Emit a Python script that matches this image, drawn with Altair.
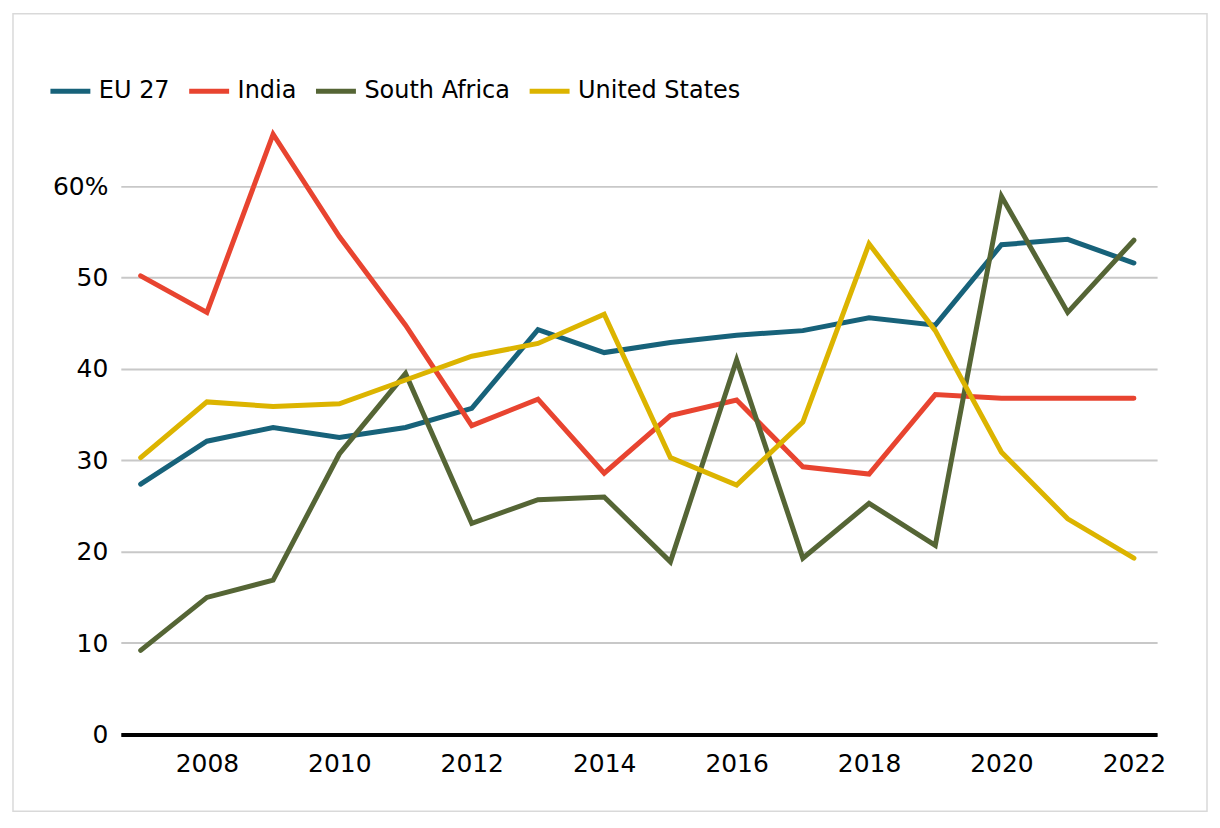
import altair as alt
import pandas as pd

years = list(range(2007, 2023))
series_names = ["EU 27", "India", "South Africa", "United States"]
eu27 = [27.4, 32.1, 33.6, 32.5, 33.6, 35.7, 44.3, 41.8, 42.9, 43.7, 44.2, 45.6, 44.8, 53.6, 54.2, 51.6]
india = [50.2, 46.2, 65.7, 54.5, 44.8, 33.8, 36.7, 28.6, 34.9, 36.6, 29.3, 28.5, 37.2, 36.8, 36.8, 36.8]
south_africa = [9.2, 15.0, 16.9, 30.7, 39.5, 23.1, 25.7, 26.0, 18.9, 41.0, 19.3, 25.3, 20.7, 58.9, 46.2, 54.1]
united_states = [30.3, 36.4, 35.9, 36.2, 38.8, 41.4, 42.8, 46.0, 30.3, 27.3, 34.2, 53.7, 44.2, 30.9, 23.6, 19.3]
colors = ["#17627a", "#e84430", "#556535", "#dcb400"]
y_ticks = [0, 10, 20, 30, 40, 50, 60]
x_ticks = [2008, 2010, 2012, 2014, 2016, 2018, 2020, 2022]

rows = []
for name, vals in zip(series_names, [eu27, india, south_africa, united_states]):
    for yr, v in zip(years, vals):
        rows.append({"year": yr, "value": v, "series": name})
df = pd.DataFrame(rows)

FONT = "DejaVu Sans"

lines = alt.Chart(df).mark_line(strokeWidth=5, strokeCap="round").encode(
    x=alt.X("year:Q",
            scale=alt.Scale(domain=[2006.7, 2022.35], nice=False, zero=False),
            axis=alt.Axis(values=x_ticks, format="d", title=None, grid=False,
                          ticks=False, domain=True, domainColor="#000000",
                          domainWidth=4, labelPadding=17, labelFont=FONT,
                          labelFontSize=25, labelColor="#000000")),
    y=alt.Y("value:Q",
            scale=alt.Scale(domain=[0, 66], nice=False),
            axis=alt.Axis(values=y_ticks, title=None, domain=False, ticks=False,
                          grid=True, gridColor="#c8c8c8", gridWidth=2,
                          labelPadding=13, labelFont=FONT, labelFontSize=25,
                          labelColor="#000000",
                          labelExpr="datum.value == 60 ? '60%' : datum.label")),
    color=alt.Color("series:N",
                    scale=alt.Scale(domain=series_names, range=colors),
                    legend=alt.Legend(title=None, orient="none", legendX=-73,
                                      legendY=-63, direction="horizontal",
                                      symbolType="stroke", symbolSize=1600,
                                      symbolStrokeWidth=5, labelFont=FONT,
                                      labelFontSize=24, labelColor="#000000",
                                      labelLimit=1000,
                                      labelOffset=6, columnPadding=9)),
)

border = alt.Chart(alt.Data(values=[{"a": 1}])).mark_rect(
    fill=None, stroke="#d9d9d9", strokeWidth=1.5
).encode(
    x=alt.value(-108), x2=alt.value(1088),
    y=alt.value(-118), y2=alt.value(681),
)

chart = alt.layer(border, lines).properties(
    width=1038, height=604,
    padding={"left": 4, "top": 4, "right": 4, "bottom": 4},
).configure(background="#ffffff", view=alt.ViewConfig(stroke=None))

chart.save("out.html", embed_options={"renderer": "svg", "actions": False})
